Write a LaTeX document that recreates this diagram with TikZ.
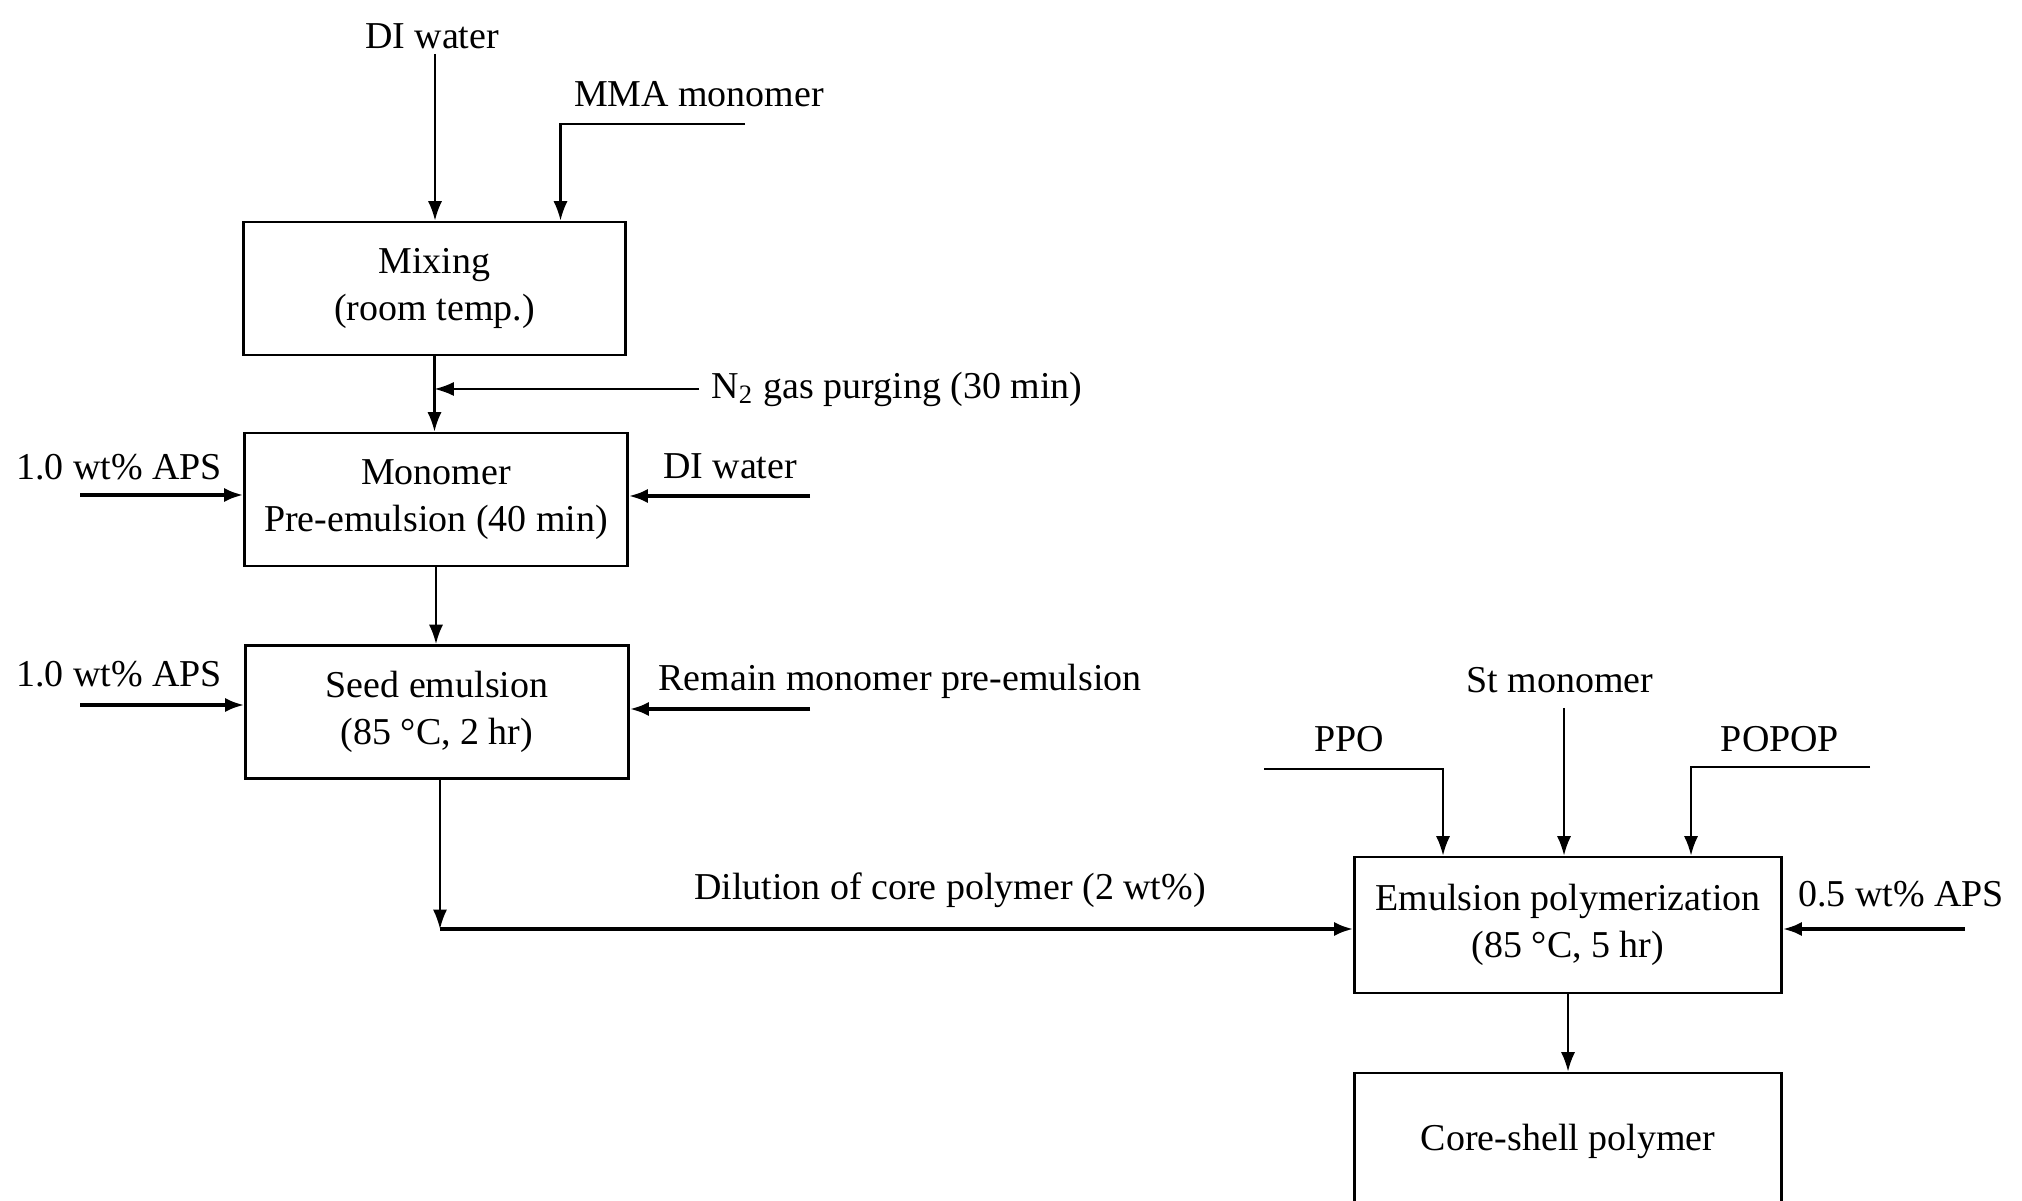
\documentclass[tikz,border=0pt]{standalone}
\usepackage{fontspec}
\setmainfont{Liberation Serif}
\usepackage{tikz}
\usetikzlibrary{arrows.meta, calc, positioning}

\tikzset{
  stage/.style={draw, line width=0.8pt, align=center, minimum width=3.82cm, minimum height=1.33cm, inner sep=0pt},
  bigstage/.style={stage, minimum width=4.26cm, minimum height=1.36cm},
  feed/.style={line width=0.6pt, -{Latex[length=5.5pt,width=4pt]}},
  thickfeed/.style={feed, line width=1.1pt},
}

\begin{document}
\begin{tikzpicture}[x=0.01cm, y=-0.01cm, font=\fontsize{10.8}{13.5}\selectfont]
\useasboundingbox (0,0) rectangle (2022,1201);

% process stages
\node[stage] (mix) at (434.5, 288.5) {Mixing\\(room temp.)};
\node[stage] (mono) at (436, 499.5) {Monomer\\Pre-emulsion (40 min)};
\node[stage] (seed) at (437, 712) {Seed emulsion\\(85 °C, 2 hr)};
\node[bigstage] (emul) at (1568, 925) {Emulsion polymerization\\(85 °C, 5 hr)};
\node[bigstage] (core) at (1568, 1141) {Core-shell polymer};

% feed labels
\node (diwtxt) at (432, 36) {DI water};
\node (mmatxt) at (699, 94) {MMA monomer};
\node[anchor=west] (n2txt) at (699, 389) {N\textsubscript{2} gas purging (30 min)};
\node (aps1txt) at (119, 467) {1.0 wt\% APS};
\node (diw2txt) at (730, 466) {DI water};
\node (aps2txt) at (119, 674) {1.0 wt\% APS};
\node (remtxt) at (900, 681) {Remain monomer pre-emulsion};
\node (diltxt) at (950, 890) {Dilution of core polymer (2 wt\%)};
\node (sttxt) at (1560, 680) {St monomer};
\node (ppotxt) at (1349, 739) {PPO};
\node (popoptxt) at (1780, 739) {POPOP};
\node (aps3txt) at (1901, 894) {0.5 wt\% APS};

% free line ends
\coordinate (diw) at (435, 54);
\coordinate (mma) at (745, 124);
\coordinate (aps1) at (80, 495);
\coordinate (diw2) at (810, 496);
\coordinate (aps2) at (80, 705);
\coordinate (rem) at (810, 709);
\coordinate (st) at (1564, 708);
\coordinate (ppo) at (1264, 769);
\coordinate (popop) at (1870, 767);
\coordinate (aps3) at (1965, 929);
\coordinate (seedout) at ($(seed.south)+(3,0)$);
\coordinate (bend) at (440, 929);

\draw[feed] (diw) -- (diw |- mix.north);
\draw[feed] (mma) -| ($(mix.north)+(126,0)$);
\draw[feed] (mix.south) -- (mix.south |- mono.north);
\draw[feed] (n2txt.west) -- (n2txt.west -| mix.south);
\draw[thickfeed] (aps1) -- (aps1 -| mono.west);
\draw[thickfeed] (diw2) -- (diw2 -| mono.east);
\draw[feed] (mono.south) -- (mono.south |- seed.north);
\draw[thickfeed] (aps2) -- (aps2 -| seed.west);
\draw[thickfeed] (rem) -- (rem -| seed.east);
\draw[feed] (seedout) -- (bend);
\draw[thickfeed] (bend) -- (bend -| emul.west);
\draw[feed] (st) -- (st |- emul.north);
\draw[feed] (ppo) -| ($(emul.north)+(-125,0)$);
\draw[feed] (popop) -| ($(emul.north)+(123,0)$);
\draw[thickfeed] (aps3) -- (aps3 -| emul.east);
\draw[feed] (emul.south) -- (core.north);
\end{tikzpicture}
\end{document}
